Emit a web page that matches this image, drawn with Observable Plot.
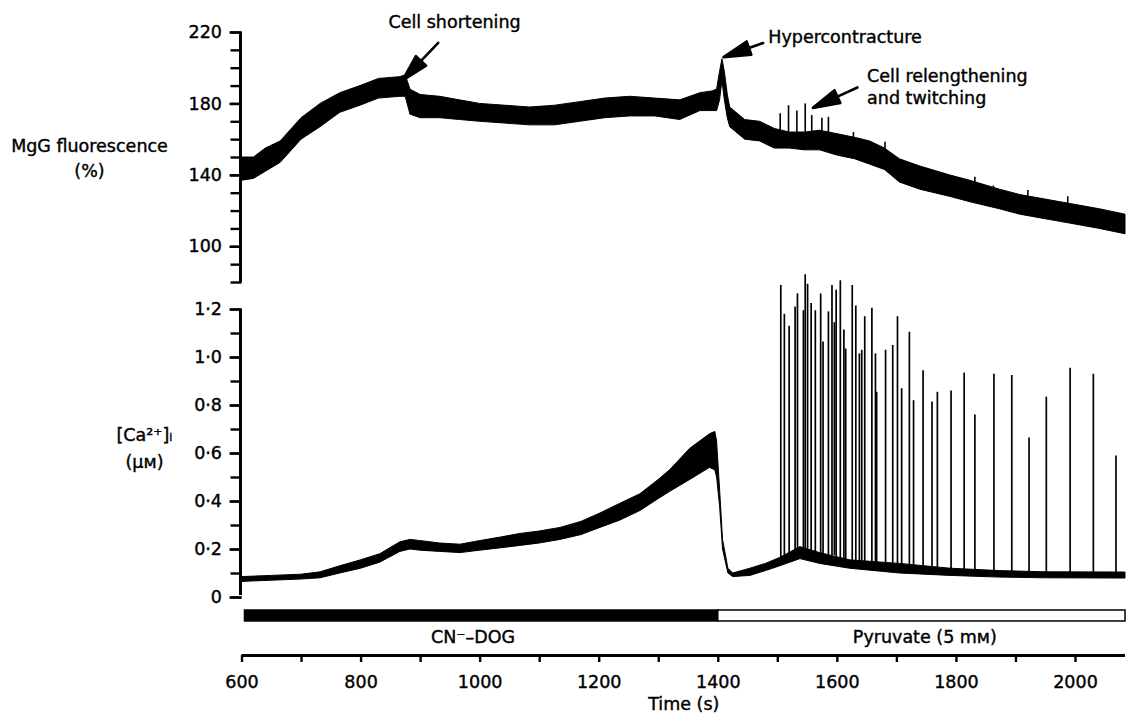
<!DOCTYPE html>
<html>
<head>
<meta charset="utf-8">
<script src="https://cdn.jsdelivr.net/npm/d3@7"></script>
<script src="https://cdn.jsdelivr.net/npm/@observablehq/plot@0.6"></script>
<style>
  html, body { margin: 0; padding: 0; background: #fff; }
  #chart { position: relative; width: 1127px; height: 719px; overflow: hidden; background: #fff; }
  #chart svg { position: absolute; left: 0; overflow: visible; background: transparent; }
  #chart svg text { stroke: #000; stroke-width: 0.4px; }
</style>
</head>
<body>
<div id="chart"></div>
<script>
// ---------------- DATA ----------------
// MgG fluorescence trace (%): envelope of the noisy record
const mgTime = [600, 620, 640, 665, 700, 732, 765, 799, 830, 866, 875, 883, 900, 933, 966, 1000, 1042, 1084, 1126, 1168, 1210, 1252, 1294, 1336, 1370, 1390, 1398, 1403, 1407, 1411, 1416, 1420, 1445, 1470, 1495, 1520, 1546, 1571, 1601, 1630, 1655, 1680, 1705, 1739, 1789, 1823, 1873, 1907, 1957, 1991, 2041, 2084];
const mgHigh = [150, 150, 155, 159, 172, 180, 186, 190, 194, 195, 196, 188, 185, 184, 182, 180, 179, 178, 179, 181, 183, 184, 183, 182, 186, 187, 188, 198, 205, 198, 185, 178, 171, 170, 166, 164, 164, 165, 163, 161, 159, 155, 149, 145, 140, 137, 132, 129, 126, 124, 121, 118];
const mgLow  = [137, 138, 142, 147, 160, 167, 175, 179, 183, 184, 184, 174, 172, 172, 171, 170, 169, 168, 168, 170, 172, 173, 173, 171, 176, 176, 176, 182, 193, 182, 172, 167, 160, 159, 155, 155, 154, 154, 151, 149, 146, 143, 136, 132, 128, 125, 121, 118, 115, 113, 110, 107];
// twitch transients on the MgG record
const mgSpikeTime = [1504, 1518, 1532, 1546, 1557, 1574, 1585, 1627, 1680, 1831, 1862, 1920, 1987];
const mgSpikePeak = [174.5, 179, 176, 180, 173.5, 172, 172.5, 164, 158.5, 139, 134, 131.5, 128];

// [Ca2+]i trace (uM): envelope of the record
const caTime = [600, 650, 700, 732, 765, 800, 832, 866, 883, 900, 933, 967, 1000, 1035, 1068, 1100, 1135, 1170, 1202, 1235, 1269, 1300, 1319, 1353, 1386, 1395, 1398, 1403, 1408, 1417, 1425, 1454, 1480, 1504, 1538, 1571, 1621, 1705, 1790, 1873, 1950, 2084];
const caHigh = [0.085, 0.09, 0.095, 0.105, 0.13, 0.155, 0.18, 0.23, 0.24, 0.235, 0.225, 0.22, 0.235, 0.25, 0.265, 0.275, 0.29, 0.315, 0.35, 0.39, 0.43, 0.49, 0.53, 0.62, 0.68, 0.69, 0.65, 0.45, 0.24, 0.12, 0.10, 0.12, 0.14, 0.165, 0.21, 0.185, 0.155, 0.14, 0.12, 0.11, 0.105, 0.104];
const caLow  = [0.065, 0.07, 0.075, 0.08, 0.10, 0.12, 0.145, 0.19, 0.20, 0.195, 0.19, 0.185, 0.195, 0.205, 0.215, 0.225, 0.24, 0.26, 0.29, 0.32, 0.36, 0.41, 0.44, 0.49, 0.54, 0.53, 0.50, 0.38, 0.20, 0.10, 0.085, 0.09, 0.11, 0.13, 0.16, 0.14, 0.12, 0.10, 0.09, 0.083, 0.08, 0.079];
// Ca2+ transients (spontaneous twitches) during pyruvate
const caSpikeTime = [1505, 1511, 1519, 1529, 1533, 1543, 1546, 1550, 1556, 1563, 1572, 1576, 1585, 1591, 1595, 1598, 1605, 1611, 1614, 1625, 1631, 1637, 1641, 1646, 1658, 1664, 1666, 1681, 1693, 1701, 1708, 1721, 1728, 1744, 1759, 1768, 1791, 1813, 1831, 1863, 1893, 1922, 1951, 1991, 2030, 2068];
const caSpikePeak = [1.30, 1.18, 1.13, 1.21, 1.265, 1.195, 1.345, 1.305, 1.225, 1.195, 1.265, 1.065, 1.19, 1.30, 1.145, 1.28, 1.32, 1.115, 1.035, 1.30, 1.215, 1.015, 1.03, 1.17, 1.205, 1.015, 0.855, 1.03, 1.05, 1.17, 0.87, 1.105, 0.82, 0.945, 0.815, 0.855, 0.86, 0.935, 0.76, 0.93, 0.925, 0.665, 0.835, 0.955, 0.93, 0.59];

// Treatment periods
const periodNames = ["CN\u207B\u2013DOG", "Pyruvate (5 m\u1D0D)"];
const periodStart = [605, 1400];
const periodEnd   = [1400, 2084];

// Axes
const timeDomain = [600, 2084];
const timeTicks = [600, 800, 1000, 1200, 1400, 1600, 1800, 2000];
const timeMinor = [700, 900, 1100, 1300, 1500, 1700, 1900];
const mgDomain = [80, 220];
const mgTicks = [100, 140, 180, 220];
const mgMinor = [80, 90, 100, 110, 120, 130, 140, 150, 160, 170, 180, 190, 200, 210, 220];
const caDomain = [0, 1.2];
const caTicks = [0, 0.2, 0.4, 0.6, 0.8, 1.0, 1.2];
const caTickLabels = ["0", "0\u00B72", "0\u00B74", "0\u00B76", "0\u00B78", "1\u00B70", "1\u00B72"];
const caMinor = [0, 0.1, 0.2, 0.3, 0.4, 0.5, 0.6, 0.7, 0.8, 0.9, 1.0, 1.1, 1.2];

// Annotations (time, value anchors)
const noteText = ["Cell shortening", "Hypercontracture", "Cell relengthening\nand twitching"];
const noteTime = [846, 1484, 1650];
const noteValue = [226.7, 218.3, 189.8];
const arrowTipTime = [869.4, 1408.8, 1558.9];
const arrowTipValue = [193.1, 206.2, 177.8];

// ---------------- RENDER ----------------
const FONT = "DejaVu Sans";
const FS = 17.5;
const W = 1127;
const ML = 241.5, MR = 2;
const chart = document.getElementById("chart");
function place(svg, top) {
  svg.style.position = "absolute";
  svg.style.left = "0px";
  svg.style.top = top + "px";
  chart.appendChild(svg);
}
const baseStyle = {fontFamily: FONT, fontSize: FS + "px", background: "transparent", overflow: "visible", color: "black"};

const mgRows = mgTime.map((t, i) => ({t, hi: mgHigh[i], lo: mgLow[i]}));
const caRows = caTime.map((t, i) => ({t, hi: caHigh[i], lo: caLow[i]}));
function nearestHigh(rows, t) {
  let best = rows[0];
  for (const r of rows) if (Math.abs(r.t - t) < Math.abs(best.t - t)) best = r;
  return best.hi;
}
const mgSpikes = mgSpikeTime.map((t, i) => ({t, peak: mgSpikePeak[i], base: nearestHigh(mgRows, t) - 3}));
const caSpikes = caSpikeTime.map((t, i) => ({t, peak: caSpikePeak[i], base: nearestHigh(caRows, t) - 0.01}));
const notes = noteText.map((s, i) => ({s, t: noteTime[i], v: noteValue[i]}));

// arrow with filled head, tip at the anchor
const arrowShape = {
  draw(ctx, l) {
    const hl = 27, hw = 7;
    ctx.moveTo(0, 0);
    ctx.lineTo(-hw, -hl);
    ctx.lineTo(hw, -hl);
    ctx.closePath();
    ctx.moveTo(0, -hl + 3);
    ctx.lineTo(0, -l);
  }
};
const arrowLen = [52, 42, 49];
const arrowRot = [43.5, 70.4, 65.4];
const arrowMarks = arrowTipTime.map((t, i) =>
  Plot.vector([{t, v: arrowTipValue[i]}], {
    x: "t", y: "v", length: arrowLen[i], rotate: arrowRot[i], anchor: "start",
    shape: arrowShape, fill: "black", stroke: "black", strokeWidth: 2.6
  })
);

// ---- Panel 1: MgG fluorescence ----
const p1 = Plot.plot({
  width: W, height: 295,
  marginLeft: ML, marginRight: MR, marginTop: 32, marginBottom: 13,
  style: baseStyle,
  x: {domain: timeDomain, axis: null},
  y: {domain: mgDomain, axis: null},
  marks: [
    Plot.areaY(mgRows, {x: "t", y1: "lo", y2: "hi", fill: "black", stroke: "black", strokeWidth: 1}),
    Plot.ruleX(mgSpikes, {x: "t", y1: "base", y2: "peak", stroke: "black", strokeWidth: 1.6}),
    Plot.axisY({ticks: mgMinor, tickSize: 11, tickFormat: () => "", strokeWidth: 2.4, label: null}),
    Plot.axisY({ticks: mgTicks, tickSize: 12, tickPadding: 8, strokeWidth: 2.4, fontSize: FS, tickFormat: d => String(d), label: null}),
    Plot.ruleX([600], {y1: mgDomain[0], y2: mgDomain[1], stroke: "black", strokeWidth: 3, dx: -1.5}),
    Plot.text(["MgG fluorescence\n(%)"], {frameAnchor: "left", dx: -152.5, dy: -1.5, textAnchor: "middle", fontSize: FS, lineHeight: 1.43}),
    Plot.text(notes, {x: "t", y: "v", text: "s", textAnchor: "start", fontSize: FS, lineHeight: 1.257}),
    ...arrowMarks
  ]
});
place(p1, 0);

// ---- Panel 2: [Ca2+]i ----
const p2 = Plot.plot({
  width: W, height: 342,
  marginLeft: ML, marginRight: MR, marginTop: 49, marginBottom: 5,
  style: baseStyle,
  x: {domain: timeDomain, axis: null},
  y: {domain: caDomain, axis: null},
  marks: [
    Plot.ruleX(caSpikes, {x: "t", y1: "base", y2: "peak", stroke: "black", strokeWidth: 1.7}),
    Plot.areaY(caRows, {x: "t", y1: "lo", y2: "hi", fill: "black", stroke: "black", strokeWidth: 1}),
    Plot.axisY({ticks: caMinor, tickSize: 11, tickFormat: () => "", strokeWidth: 2.4, label: null}),
    Plot.axisY({ticks: caTicks, tickSize: 12, tickPadding: 8, strokeWidth: 2.4, fontSize: FS,
      tickFormat: d => caTickLabels[caTicks.findIndex(v => Math.abs(v - d) < 1e-9)], label: null}),
    Plot.ruleX([600], {y1: caDomain[0], y2: caDomain[1], stroke: "black", strokeWidth: 3, dx: -1.5, insetTop: -2}),
    Plot.text(["[Ca\u00B2\u207A]\u1D62\n(\u03BC\u1D0D)"], {frameAnchor: "left", dx: -97.5, dy: -7.5, textAnchor: "middle", fontSize: FS, lineHeight: 1.54})
  ]
});
place(p2, 260);

// ---- Panel 3: treatment bar and time axis ----
const periods = periodNames.map((name, i) => ({name, x1: periodStart[i], x2: periodEnd[i]}));
const p3 = Plot.plot({
  width: W, height: 119,
  marginLeft: ML, marginRight: MR, marginTop: 10, marginBottom: 64,
  style: baseStyle,
  x: {domain: timeDomain, axis: null},
  y: {domain: [0, 1], axis: null},
  marks: [
    Plot.rect(periods, {x1: "x1", x2: "x2", y1: 0.756, y2: 1, fill: (d, i) => i === 0 ? "black" : "white", stroke: "black", strokeWidth: 1.5}),
    Plot.text(periods, {x: (d, i) => [988, 1747][i], y: 0.4, text: "name", fontSize: FS}),
    Plot.axisX({anchor: "bottom", ticks: timeMinor, tickSize: 7, tickFormat: () => "", strokeWidth: 2.4, label: null}),
    Plot.axisX({anchor: "bottom", ticks: timeTicks, tickSize: 7, tickPadding: 13, strokeWidth: 2.4, fontSize: FS, tickFormat: d => String(d), label: null}),
    Plot.ruleY([0], {x1: timeDomain[0], x2: timeDomain[1], stroke: "black", strokeWidth: 3}),
    Plot.text(["Time (s)"], {frameAnchor: "bottom", dy: 54, fontSize: FS})
  ]
});
place(p3, 600);
</script>
</body>
</html>
